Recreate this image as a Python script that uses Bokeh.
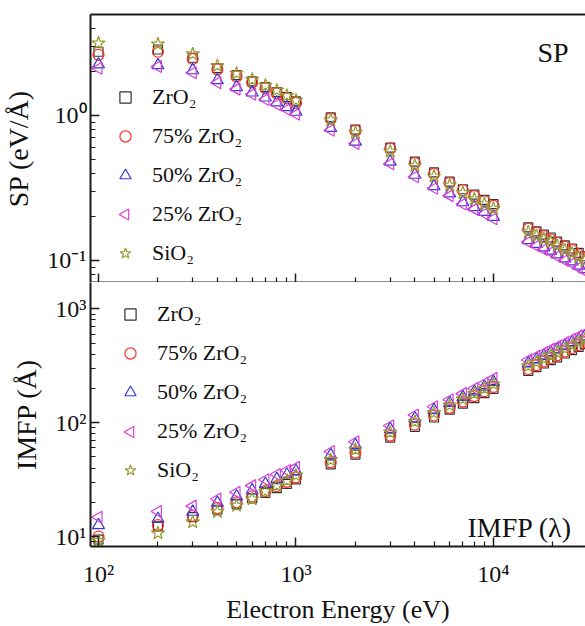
import math
from bokeh.plotting import figure
from bokeh.models import (Range1d, FixedTicker, CustomJSTickFormatter, Legend,
                          LegendItem, Label, LogAxis, CustomLabelingPolicy)
from bokeh.layouts import column
from bokeh.embed import file_html
from bokeh.resources import INLINE

# ---------------- data ----------------
energy = [100, 200, 300, 400, 500, 600, 700, 800, 900, 1000,
          1500, 2000, 3000, 4000, 5000, 6000, 7000, 8000, 9000, 10000,
          15000, 16500, 18000, 19500, 21000, 23000, 25000, 27000, 29000]

series_labels = ["ZrO\u2082", "75% ZrO\u2082", "50% ZrO\u2082", "25% ZrO\u2082", "SiO\u2082"]

sp_zro2 = [2.75, 2.85, 2.50, 2.12, 1.90, 1.72, 1.57, 1.45, 1.34, 1.25,
           0.97, 0.80, 0.60, 0.48, 0.405, 0.35, 0.31, 0.285, 0.262, 0.245,
           0.169, 0.159, 0.151, 0.144, 0.135, 0.127, 0.121, 0.113, 0.107]
sp_75 = [2.62, 2.75, 2.45, 2.08, 1.86, 1.69, 1.54, 1.42, 1.31, 1.22,
         0.95, 0.785, 0.59, 0.47, 0.395, 0.343, 0.305, 0.278, 0.256, 0.238,
         0.165, 0.155, 0.147, 0.140, 0.132, 0.124, 0.118, 0.110, 0.104]
sp_50 = [2.25, 2.22, 2.05, 1.75, 1.57, 1.44, 1.33, 1.23, 1.14, 1.06,
         0.82, 0.66, 0.48, 0.39, 0.325, 0.29, 0.252, 0.233, 0.216, 0.200,
         0.138, 0.130, 0.123, 0.117, 0.110, 0.1035, 0.0985, 0.092, 0.087]
sp_25 = [2.12, 2.18, 1.97, 1.68, 1.52, 1.40, 1.29, 1.19, 1.10, 1.02,
         0.79, 0.64, 0.465, 0.378, 0.315, 0.28, 0.245, 0.226, 0.21, 0.194,
         0.134, 0.126, 0.119, 0.114, 0.107, 0.100, 0.0955, 0.089, 0.0845]
sp_sio2 = [3.15, 3.10, 2.65, 2.20, 1.95, 1.77, 1.61, 1.49, 1.37, 1.27,
           0.93, 0.76, 0.565, 0.45, 0.38, 0.33, 0.293, 0.265, 0.245, 0.228,
           0.157, 0.148, 0.140, 0.134, 0.126, 0.118, 0.112, 0.105, 0.0995]

imfp_zro2 = [9.4, 12.3, 14.8, 17.2, 19.4, 21.6, 24.2, 26.6, 29.0, 31.8,
             43, 52.5, 74, 92, 111, 130, 147, 164, 182, 198,
             285, 308, 331, 354, 375, 405, 434, 463, 490]
imfp_75 = [10.0, 12.6, 15.2, 17.8, 20.0, 22.5, 25.2, 27.7, 30.2, 33.1,
           44.8, 54.6, 77, 96, 115.5, 135, 153, 171, 189, 206,
           296, 320, 344, 368, 390, 421, 451, 481, 510]
imfp_50 = [12.6, 14.3, 16.5, 19.8, 22.5, 25.5, 29, 32, 35, 37.5,
           52, 63.5, 88, 109, 129, 149, 168, 187, 207, 228,
           332, 359, 386, 412, 437, 472, 506, 539, 571]
imfp_25 = [14.8, 16.6, 18.5, 21.4, 24.5, 28, 31.6, 35, 38, 40.5,
           55.8, 68, 94, 117, 138, 159, 180, 200, 222, 245,
           355, 383, 412, 441, 467, 504, 540, 576, 610]
imfp_sio2 = [9.2, 10.7, 13.4, 16.5, 18.7, 21.3, 25, 28, 31, 34.5,
             47, 58, 82, 102, 122, 142, 161, 180, 199, 218,
             314, 339, 364, 389, 413, 446, 477, 509, 539]

x_major = [100, 1000, 10000]
x_minor = [200, 300, 400, 500, 600, 700, 800, 900,
           2000, 3000, 4000, 5000, 6000, 7000, 8000, 9000, 20000, 30000]
sp_major = [0.1, 1]
sp_minor = [0.08, 0.09, 0.2, 0.3, 0.4, 0.5, 0.6, 0.7, 0.8, 0.9, 2, 3, 4]
imfp_major = [10, 100, 1000]
imfp_minor = [9, 20, 30, 40, 50, 60, 70, 80, 90,
              200, 300, 400, 500, 600, 700, 800, 900]

# ---------------- styles / geometry ----------------
FONT = "Liberation Serif"
AX = "#1a1a1a"
W = 585
LEFT = 90
X_LO, X_HI = 91.1, 29240
SP_LO, SP_HI = 0.0705, 4.97
IM_LO, IM_HI = 8.18, 1702
TOP_FRAME_H = 268
BOT_FRAME_H = 265

styles = [
    dict(marker="square", size=9, line_color="#333333", angle=0.0),
    dict(marker="circle", size=11, line_color="#ff3030", angle=0.0),
    dict(marker="triangle", size=12, line_color="#3838d0", angle=0.0),
    dict(marker="triangle", size=12, line_color="#d840d8", angle=math.pi / 2),
    dict(marker="star", size=14, line_color="#9a9a30", angle=0.0),
]

LEG_GLYPH_W = 28
LEG_ROW = 36
LEG_SPACING = 3

sup_code = """
const sup = {"0":"\u2070","1":"\u00b9","2":"\u00b2","3":"\u00b3","4":"\u2074",
             "5":"\u2075","6":"\u2076","7":"\u2077","8":"\u2078","9":"\u2079","-":"\u207b"};
const e = Math.round(Math.log10(tick));
return "10" + String(e).split("").map(c => sup[c]).join("");
"""

x_range = Range1d(X_LO, X_HI)


def style_axis(ax, major, minor, labels=True, size="24px", standoff=4):
    ax.ticker = FixedTicker(ticks=major, minor_ticks=minor)
    ax.formatter = CustomJSTickFormatter(code=sup_code)
    ax.axis_line_color = AX
    ax.axis_line_width = 2
    ax.major_tick_line_color = AX
    ax.minor_tick_line_color = AX
    ax.major_tick_line_width = 1.5
    ax.minor_tick_line_width = 1.2
    ax.major_tick_in = 9
    ax.major_tick_out = 0
    ax.minor_tick_in = 5
    ax.minor_tick_out = 0
    ax.major_label_text_font = FONT
    ax.major_label_text_color = "#111111"
    if labels:
        ax.major_label_text_font_size = size
        ax.major_label_standoff = standoff
    else:
        ax.major_label_text_font_size = "0px"
        ax.major_label_standoff = 0
        ax.major_label_policy = CustomLabelingPolicy(code="return new Set()")


def add_series(p, ys):
    rends = []
    for y, st in zip(ys, styles):
        r = p.scatter(energy, y, marker=st["marker"], size=st["size"],
                      angle=st["angle"], fill_color=None,
                      line_color=st["line_color"], line_width=1.2)
        rends.append(r)
    return rends


def add_legend(p, rends, loc, frame_h, ylo, yhi):
    # the legend cannot rotate a marker, so the left-pointing triangle key
    # is drawn as its own rotated marker at the legend's row position
    st = styles[3]
    dummy = p.scatter([], [], marker="triangle", size=1, fill_color=None, line_color=None)
    leg_rends = list(rends)
    leg_rends[3] = dummy
    items = [LegendItem(label=lab, renderers=[r]) for lab, r in zip(series_labels, leg_rends)]
    leg = Legend(items=items, location=loc, border_line_color=None,
                 background_fill_alpha=0, padding=0, margin=0, spacing=LEG_SPACING,
                 glyph_height=LEG_ROW, glyph_width=LEG_GLYPH_W, label_height=LEG_ROW,
                 label_standoff=13, label_text_font=FONT,
                 label_text_font_size="22px", label_text_color="#111111")
    p.add_layout(leg)
    n = len(items)
    leg_h = n * LEG_ROW + (n - 1) * LEG_SPACING
    key_px = loc[0] + LEG_GLYPH_W / 2.0                      # from frame left
    key_py = loc[1] + leg_h - (3 * (LEG_ROW + LEG_SPACING) + LEG_ROW / 2.0)  # from frame bottom
    fw = W - LEFT
    kx = 10 ** (math.log10(X_LO) + key_px / fw * (math.log10(X_HI) - math.log10(X_LO)))
    ky = 10 ** (math.log10(ylo) + key_py / frame_h * (math.log10(yhi) - math.log10(ylo)))
    p.scatter([kx], [ky], marker=st["marker"], size=11, angle=st["angle"],
              fill_color=None, line_color=st["line_color"], line_width=1.2)


# ---------------- top panel: SP ----------------
p1 = figure(width=W, height=282, x_axis_type="log", y_axis_type="log",
            x_range=x_range, y_range=Range1d(SP_LO, SP_HI),
            output_backend="svg", toolbar_location=None,
            min_border_left=LEFT, min_border_right=0, min_border_top=14,
            min_border_bottom=0)
p1.outline_line_color = None
p1.grid.visible = False
style_axis(p1.xaxis[0], x_major, x_minor, labels=False)
style_axis(p1.yaxis[0], sp_major, sp_minor)
p1.yaxis[0].axis_label = "SP (eV/\u00c5)"
p1.yaxis[0].axis_label_text_font = FONT
p1.yaxis[0].axis_label_text_font_size = "28px"
p1.yaxis[0].axis_label_text_font_style = "normal"
p1.yaxis[0].axis_label_text_color = "#111111"
p1.yaxis[0].axis_label_standoff = 10
top_ax = LogAxis(ticker=FixedTicker(ticks=[]), major_label_text_font_size="0px",
                 major_label_standoff=0, major_tick_line_color=None,
                 minor_tick_line_color=None, axis_line_color=AX, axis_line_width=2,
                 major_label_policy=CustomLabelingPolicy(code="return new Set()"))
p1.add_layout(top_ax, "above")
r1 = add_series(p1, [sp_zro2, sp_75, sp_50, sp_25, sp_sio2])
add_legend(p1, r1, (21, 11), TOP_FRAME_H, SP_LO, SP_HI)
p1.add_layout(Label(x=16700, y=2.72, text="SP", text_font=FONT,
                    text_font_size="28px", text_align="left",
                    text_baseline="alphabetic", text_color="#111111"))

# ---------------- bottom panel: IMFP ----------------
p2 = figure(width=W, height=344, x_axis_type="log", y_axis_type="log",
            x_range=x_range, y_range=Range1d(IM_LO, IM_HI),
            output_backend="svg", toolbar_location=None,
            min_border_left=LEFT, min_border_right=0, min_border_top=0,
            min_border_bottom=79)
p2.outline_line_color = None
p2.grid.visible = False
style_axis(p2.xaxis[0], x_major, x_minor, labels=True, size="24px", standoff=14)
p2.xaxis[0].axis_label = "Electron Energy (eV)"
p2.xaxis[0].axis_label_text_font = FONT
p2.xaxis[0].axis_label_text_font_size = "26px"
p2.xaxis[0].axis_label_text_font_style = "normal"
p2.xaxis[0].axis_label_text_color = "#111111"
p2.xaxis[0].axis_label_standoff = 5
style_axis(p2.yaxis[0], imfp_major, imfp_minor)
p2.yaxis[0].axis_label = "IMFP (\u00c5)"
p2.yaxis[0].axis_label_text_font = FONT
p2.yaxis[0].axis_label_text_font_size = "28px"
p2.yaxis[0].axis_label_text_font_style = "normal"
p2.yaxis[0].axis_label_text_color = "#111111"
p2.yaxis[0].axis_label_standoff = 10
r2 = add_series(p2, [imfp_zro2, imfp_75, imfp_50, imfp_25, imfp_sio2])
add_legend(p2, r2, (26, 58), BOT_FRAME_H, IM_LO, IM_HI)
p2.add_layout(Label(x=7380, y=12.1, text="IMFP (\u03bb)", text_font=FONT,
                    text_font_size="28px", text_align="left",
                    text_baseline="alphabetic", text_color="#111111"))

layout = column(p1, p2, spacing=0)
open("out.html", "w").write(file_html(layout, INLINE))
